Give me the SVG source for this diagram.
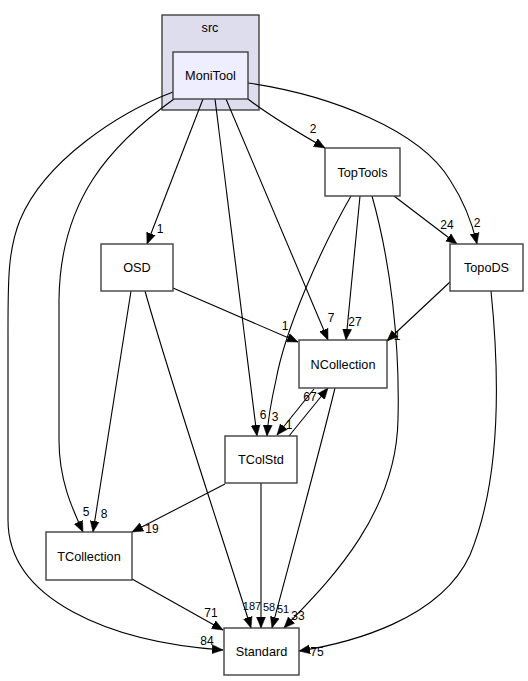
<svg xmlns="http://www.w3.org/2000/svg" width="528" height="681" viewBox="0 0 528 681">
<style>
.n rect{fill:#ffffff;stroke:#404040;stroke-width:1.4}
.n text,.cl text{font-family:"Liberation Sans",Arial,sans-serif;font-size:12.7px;text-anchor:middle;fill:#000}
.e path{fill:none;stroke:#000;stroke-width:1.1;marker-end:url(#ah)}
.e text{font-family:"Liberation Sans",Arial,sans-serif;font-size:12px;text-anchor:middle;fill:#000}
.e text.s{font-size:11px}
</style>
<defs>
<marker id="ah" markerUnits="userSpaceOnUse" markerWidth="12" markerHeight="10" refX="11" refY="5" orient="auto">
<path d="M0,0.5 L11,5 L0,9.5 z" fill="#000" stroke="#000" stroke-width="0.5"/>
</marker>
</defs>
<rect width="528" height="681" fill="#ffffff"/>
<g id="cluster_src" class="cl">
<rect x="162" y="15" width="97" height="95" fill="#ddddee" stroke="#404040" stroke-width="1.4"/>
<text x="210" y="32">src</text>
</g>
<g id="edges" class="e">
<path d="M173,92 C120,112 45,160 20,220 C8,250 8,280 8,330 L8,520 C8,600 110,642 223,650"/>
<text x="207" y="645">84</text>
<path d="M174,99 C110,145 60,200 59,300 L59,440 C59,480 72,508 83,532"/>
<text x="86" y="516">5</text>
<path d="M203,99 L147,244"/>
<text x="160" y="233">1</text>
<path d="M215,99 L257,436"/>
<text x="263" y="419">6</text>
<path d="M226,99 L328,340"/>
<text x="331" y="322">7</text>
<path d="M248,99 C262,110 290,128 325,148"/>
<text x="313" y="133">2</text>
<path d="M248,83 C330,95 420,130 450,180 C465,203 472,222 477,244"/>
<text x="477" y="227">2</text>
<path d="M394,196 L457,244"/>
<text x="447" y="229">24</text>
<path d="M360,196 L346,340"/>
<text x="355" y="326">27</text>
<path d="M351,196 C320,250 285,330 276,380 C271,402 268,420 267,436"/>
<text x="275" y="421">3</text>
<path d="M372,196 C390,260 400,340 398,420 C396,520 320,590 284,628"/>
<text x="298" y="620">33</text>
<path d="M450,282 L387,341"/>
<text x="397" y="340">1</text>
<path d="M491,291 C497,350 505,470 470,555 C440,620 350,643 299,651"/>
<text x="317" y="656">75</text>
<path d="M173,288 L298,342"/>
<text x="285" y="330">1</text>
<path d="M131,291 L93,532"/>
<text x="104" y="518">8</text>
<path d="M145,291 C170,380 220,530 251,628"/>
<text class="s" x="252" y="610">187</text>
<path d="M289,436 L328,388"/>
<text x="310" y="401">67</text>
<path d="M314,389 L277,435"/>
<text x="289" y="429">1</text>
<path d="M335,388 C320,450 290,560 272,628"/>
<text class="s" x="283" y="613">51</text>
<path d="M261,483 L261,628"/>
<text class="s" x="269" y="611">58</text>
<path d="M225,484 L132,532"/>
<text x="152" y="533">19</text>
<path d="M132,579 L223,630"/>
<text x="211" y="617">71</text>
</g>
<g id="MoniTool" class="n">
<rect x="173" y="52" width="75" height="47" style="fill:#eeeeff"/>
<text x="210.5" y="80">MoniTool</text>
</g>
<g id="TopTools" class="n">
<rect x="325" y="148" width="75" height="48"/>
<text x="362.5" y="176.5">TopTools</text>
</g>
<g id="TopoDS" class="n">
<rect x="450" y="244" width="73" height="47"/>
<text x="486.5" y="272">TopoDS</text>
</g>
<g id="OSD" class="n">
<rect x="101" y="244" width="72" height="47"/>
<text x="137" y="272">OSD</text>
</g>
<g id="NCollection" class="n">
<rect x="299" y="340" width="88" height="48"/>
<text x="343" y="368.5">NCollection</text>
</g>
<g id="TColStd" class="n">
<rect x="225" y="436" width="72" height="47"/>
<text x="261" y="464">TColStd</text>
</g>
<g id="TCollection" class="n">
<rect x="46" y="532" width="86" height="48"/>
<text x="89" y="560.5">TCollection</text>
</g>
<g id="Standard" class="n">
<rect x="224" y="628" width="75" height="47"/>
<text x="261.5" y="656">Standard</text>
</g>
</svg>
